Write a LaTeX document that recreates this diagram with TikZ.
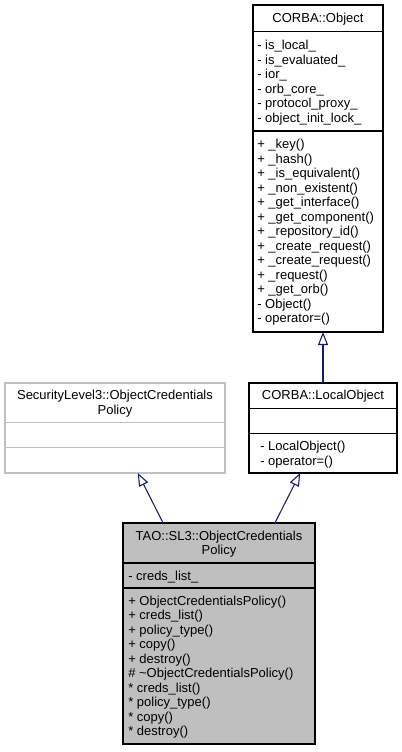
\documentclass[tikz,border=0pt]{standalone}
\usepackage{fontspec}
\setmainfont{Liberation Sans}
\usetikzlibrary{arrows.meta}
\definecolor{edgeblue}{HTML}{191970}
\definecolor{boxgrey}{HTML}{BFBFBF}
\definecolor{lightline}{HTML}{C0C0C0}
\newcommand{\umlfont}{\fontsize{9.75pt}{10pt}\selectfont}
\begin{document}
\begin{tikzpicture}[x=0.75pt,y=-0.75pt,
  cls/.style={draw=black, line width=0.8pt, inner sep=0pt, outer sep=0pt},
  mem/.style={anchor=base west, inner sep=0pt, font=\umlfont},
  ttl/.style={anchor=base, inner sep=0pt, font=\umlfont},
  sepline/.style={line width=0.8pt},
  inherit/.style={draw=edgeblue, line width=0.8pt, -{Triangle[open, length=9.75pt, width=7.5pt]}}]
\useasboundingbox[fill=white] (0,0) rectangle (401,752);

% CORBA::Object
\node[cls, minimum width=97.5pt, minimum height=245.25pt] (obj) at (318,168.5) {};
\draw[sepline] (obj.west |- 0,31.8) -- (obj.east |- 0,31.8);
\draw[sepline] (obj.west |- 0,131) -- (obj.east |- 0,131);
\node[ttl] (objt) at (318,23) {CORBA::Object};
\foreach \t [count=\i from 0] in {- is\_local\_, - is\_evaluated\_, - ior\_, - orb\_core\_, - protocol\_proxy\_, - object\_init\_lock\_}
  \node[mem] (obja\i) at (257,49.7+14.5*\i) {\t};
\foreach \t [count=\i from 0] in {+ \_key(), + \_hash(), + \_is\_equivalent(), + \_non\_existent(), + \_get\_interface(), + \_get\_component(), + \_repository\_id(), + \_create\_request(), + \_create\_request(), + \_request(), + \_get\_orb(), - Object(), - operator=()}
  \node[mem] (objm\i) at (257,148.9+14.5*\i) {\t};

% SecurityLevel3::ObjectCredentialsPolicy
\node[cls, draw=lightline, minimum width=165pt, minimum height=67.5pt] (sl3) at (115,428) {};
\draw[sepline, lightline] (sl3.west |- 0,422.4) -- (sl3.east |- 0,422.4);
\draw[sepline, lightline] (sl3.west |- 0,447.6) -- (sl3.east |- 0,447.6);
\node[ttl] (sl3t1) at (115,399.8) {SecurityLevel3::ObjectCredentials};
\node[ttl] (sl3t2) at (115,414.3) {Policy};

% CORBA::LocalObject
\node[cls, minimum width=111pt, minimum height=67.5pt] (lo) at (323,428) {};
\draw[sepline] (lo.west |- 0,408.2) -- (lo.east |- 0,408.2);
\draw[sepline] (lo.west |- 0,433.4) -- (lo.east |- 0,433.4);
\node[ttl] (lot) at (323,399.8) {CORBA::LocalObject};
\node[mem] (lom0) at (260,450.5) {- LocalObject()};
\node[mem] (lom1) at (260,465) {- operator=()};

% TAO::SL3::ObjectCredentialsPolicy
\node[cls, fill=boxgrey, minimum width=144pt, minimum height=165.75pt] (tao) at (219,633.5) {};
\draw[sepline] (tao.west |- 0,563) -- (tao.east |- 0,563);
\draw[sepline] (tao.west |- 0,588) -- (tao.east |- 0,588);
\node[ttl] (taot1) at (219,540.1) {TAO::SL3::ObjectCredentials};
\node[ttl] (taot2) at (219,554.6) {Policy};
\node[mem] (taoa0) at (128,580.1) {- creds\_list\_};
\foreach \t [count=\i from 0] in {+ ObjectCredentialsPolicy(), + creds\_list(), + policy\_type(), + copy(), + destroy(), \# \textasciitilde ObjectCredentialsPolicy(), * creds\_list(), * policy\_type(), * copy(), * destroy()}
  \node[mem] (taom\i) at (128,605.2+14.5*\i) {\t};

% inheritance
\draw[inherit] (tao) -- (sl3);
\draw[inherit] (tao) -- (lo);
\draw[inherit] (lo.north) -- (lo.north |- obj.south);
\end{tikzpicture}
\end{document}
